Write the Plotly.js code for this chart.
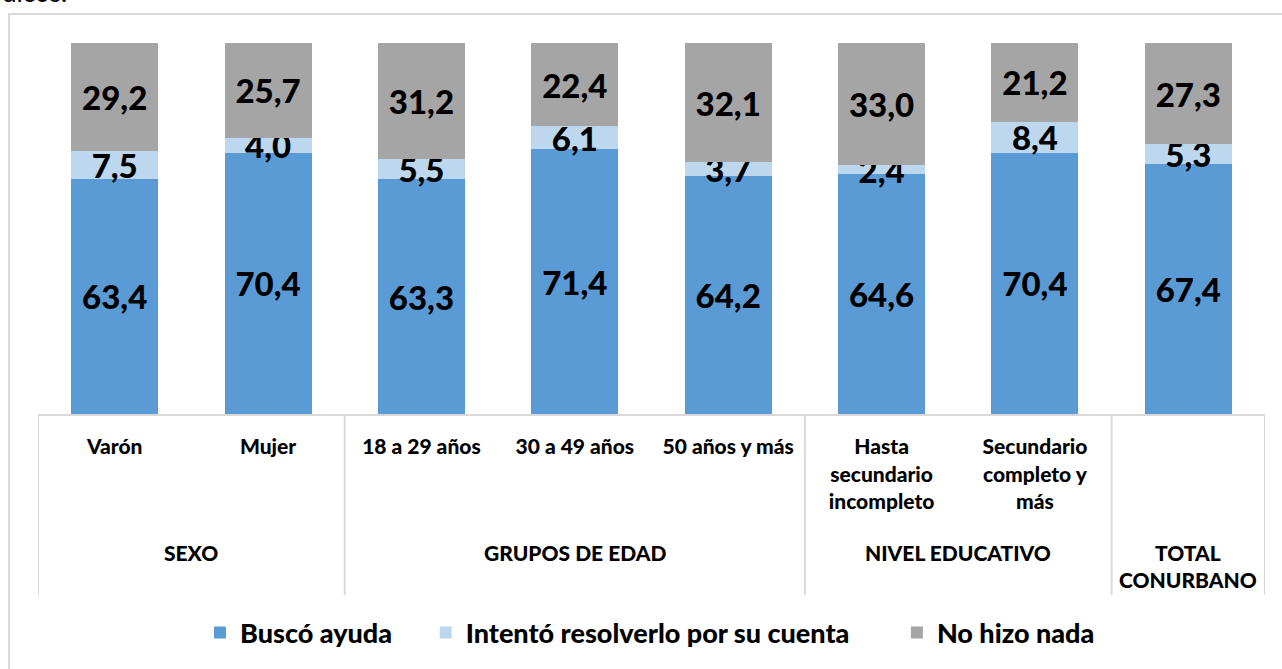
<!DOCTYPE html>
<html>
<head>
<meta charset="utf-8">
<script src="https://cdn.plot.ly/plotly-3.0.1.min.js"></script>
<style>
  html, body { margin: 0; padding: 0; background: #ffffff; overflow: hidden; }
  #frame { position: absolute; left: 8px; top: 13px; width: 1400px; height: 800px;
           border-left: 2px solid #d9d9d9; border-top: 2px solid #d9d9d9; box-sizing: border-box; }
  #chart { position: absolute; left: 0; top: 0; width: 1282px; height: 669px; }
</style>
</head>
<body>
<div id="frame"></div>
<div id="chart"></div>
<script>
// ---- Data ----
const categories = ["Varón", "Mujer", "18 a 29 años", "30 a 49 años", "50 años y más",
                    "Hasta<br>secundario<br>incompleto", "Secundario<br>completo y<br>más", ""];
const groups = ["SEXO", "GRUPOS DE EDAD", "NIVEL EDUCATIVO", "TOTAL<br>CONURBANO"];
const groupStart = [0, 2, 5, 7];
const groupEnd = [1, 4, 6, 7];
const seriesNames = ["Buscó ayuda", "Intentó resolverlo por su cuenta", "No hizo nada"];
const buscoAyuda = [63.4, 70.4, 63.3, 71.4, 64.2, 64.6, 70.4, 67.4];
const intentoResolver = [7.5, 4.0, 5.5, 6.1, 3.7, 2.4, 8.4, 5.3];
const noHizoNada = [29.2, 25.7, 31.2, 22.4, 32.1, 33.0, 21.2, 27.3];
const headerText = "dicos.";

// ---- Styles ----
const colors = ["#5B9BD5", "#BDD7EE", "#A5A5A5"];
const FONT = "Lato, 'Open Sans', sans-serif";
const W = 900;
const lineColor = "#d9d9d9";
const legendIds = ["legend", "legend2", "legend3"];
const legendX = [0.132, 0.316, 0.700];

const xIdx = categories.map((_, i) => i);
const values = [buscoAyuda, intentoResolver, noHizoNada];

const traces = values.map((v, k) => ({
  type: "bar",
  name: seriesNames[k],
  legend: legendIds[k],
  x: xIdx,
  y: v,
  marker: { color: colors[k], line: { width: 0 } },
  texttemplate: "%{y:.1f}",
  textposition: "inside",
  insidetextanchor: "middle",
  constraintext: "none",
  textangle: 0,
  textfont: { family: FONT, size: 33, color: "#000000", weight: W },
  hoverinfo: "name+y"
}));

// divider positions (between groups), expressed in category index space
const dividers = [-0.5].concat(groupEnd.map(e => e + 0.5));
const shapes = dividers.map(d => ({
  type: "line", xref: "x", yref: "paper",
  x0: d, x1: d, y0: 0, y1: -0.488,
  line: { color: lineColor, width: 2 }
}));

const annotations = groups.map((g, i) => ({
  text: g,
  x: (groupStart[i] + groupEnd[i]) / 2,
  xref: "x", yref: "paper",
  y: -0.333, yanchor: "top", xanchor: "center",
  showarrow: false, align: "center",
  font: { family: FONT, size: 21, color: "#000000", weight: W }
}));
annotations.push({
  text: headerText, xref: "paper", yref: "paper",
  x: -0.031, xanchor: "left", y: 1.088, yanchor: "bottom",
  showarrow: false, font: { family: FONT, size: 26, color: "#000000" }
});

const layout = {
  width: 1282, height: 669,
  margin: { l: 38, r: 17, t: 43, b: 253, pad: 0 },
  paper_bgcolor: "rgba(0,0,0,0)",
  plot_bgcolor: "rgba(0,0,0,0)",
  barmode: "stack",
  bargap: 0.433,
  separators: ",.",
  showlegend: true,
  xaxis: {
    type: "linear", range: [-0.5, 7.5], fixedrange: true,
    tickmode: "array", tickvals: xIdx, ticktext: categories,
    ticks: "", ticklabelstandoff: 13,
    tickfont: { family: FONT, size: 21, color: "#000000", weight: W },
    showgrid: false, zeroline: false,
    showline: true, linecolor: lineColor, linewidth: 2
  },
  yaxis: {
    range: [0, 100], fixedrange: true, visible: false,
    showgrid: false, zeroline: false
  },
  shapes: shapes,
  annotations: annotations,
  font: { family: FONT }
};
legendIds.forEach((id, k) => {
  layout[id] = {
    orientation: "h", x: legendX[k], xanchor: "left", y: -0.59, yanchor: "middle",
    font: { family: FONT, size: 27, color: "#000000", weight: W },
    itemclick: false, itemdoubleclick: false, bgcolor: "rgba(0,0,0,0)"
  };
});

Plotly.newPlot("chart", traces, layout, { displayModeBar: false, staticPlot: true });
</script>
</body>
</html>
